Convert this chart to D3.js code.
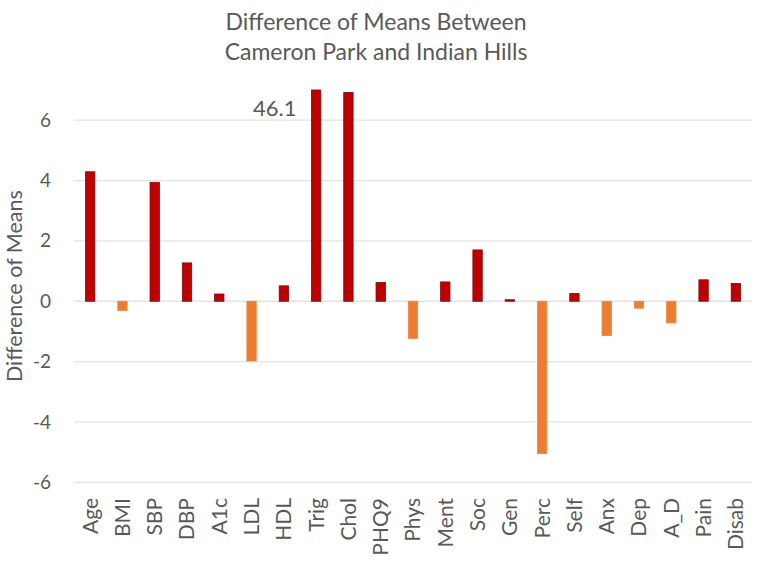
<!DOCTYPE html>
<html>
<head>
<meta charset="utf-8">
<script src="https://cdn.jsdelivr.net/npm/d3@7"></script>
<style>
  body { margin: 0; background: #fff; }
  text { font-family: Lato, "Open Sans", sans-serif; fill: #595959; }
</style>
</head>
<body>
<script>
// chart values
const categories = ["Age", "BMI", "SBP", "DBP", "A1c", "LDL", "HDL", "Trig", "Chol", "PHQ9",
    "Phys", "Ment", "Soc", "Gen", "Perc", "Self", "Anx", "Dep", "A_D", "Pain", "Disab"];
const diffs = [4.29, -0.31, 3.94, 1.27, 0.24, -1.98, 0.51, 46.1, 6.92, 0.62,
    -1.23, 0.64, 1.70, 0.05, -5.05, 0.26, -1.14, -0.23, -0.72, 0.71, 0.59];
const yTicks = [-6, -4, -2, 0, 2, 4, 6];
const titleLines = ["Difference of Means Between", "Cameron Park and Indian Hills"];
const offScaleLabel = "46.1";

const width = 765, height = 563;
const margin = {left: 74, right: 13, top: 89, bottom: 81};

const svg = d3.select("body").append("svg")
    .attr("width", width)
    .attr("height", height);

const x = d3.scaleBand()
    .domain(categories)
    .range([margin.left, width - margin.right])
    .paddingInner(0.71)
    .paddingOuter(0.355);

const y = d3.scaleLinear()
    .domain([-6, 7])
    .range([482.3, 90]);

// gridlines
svg.append("g")
    .selectAll("line")
    .data(yTicks)
    .join("line")
    .attr("x1", margin.left)
    .attr("x2", width - margin.right)
    .attr("y1", d => y(d))
    .attr("y2", d => y(d))
    .attr("stroke", "#e3e3e3")
    .attr("stroke-width", 1.3);

// y axis labels (plain hyphen for negatives, like the original)
const yAxis = svg.append("g")
    .attr("transform", `translate(${margin.left - 23},0)`)
    .call(d3.axisLeft(y).tickValues(yTicks).tickSize(0).tickPadding(0)
        .tickFormat(d => String(d)));
yAxis.select(".domain").remove();
yAxis.selectAll("text")
    .style("font-size", "19px")
    .attr("fill", "#595959")
    .style("font-family", "Lato, sans-serif");

// bars (clipped at the axis maximum)
const yMax = y.domain()[1];
svg.append("g")
    .selectAll("rect")
    .data(categories.map((c, i) => ({c, v: diffs[i]})))
    .join("rect")
    .attr("x", d => x(d.c))
    .attr("width", x.bandwidth())
    .attr("y", d => y(Math.min(Math.max(d.v, 0), yMax)))
    .attr("height", d => Math.abs(y(Math.min(d.v, yMax)) - y(0)))
    .attr("fill", d => d.v >= 0 ? "#c00000" : "#ed7d31")
    .attr("stroke", d => d.v >= 0 ? "#7a0a0a" : "#e9873f")
    .attr("stroke-width", 0.8);

// value label for the off-scale bar
const big = categories[diffs.indexOf(46.1)];
svg.append("text")
    .attr("x", x(big) - 15)
    .attr("y", 116)
    .attr("text-anchor", "end")
    .style("font-size", "22px")
    .text(offScaleLabel);

// category labels
const xAxis = svg.append("g")
    .attr("transform", `translate(0,${height - margin.bottom + 16})`)
    .call(d3.axisBottom(x).tickSize(0).tickPadding(0));
xAxis.select(".domain").remove();
xAxis.selectAll("text")
    .attr("transform", "rotate(-90)")
    .attr("text-anchor", "end")
    .attr("dy", "0.35em")
    .attr("x", 0)
    .attr("y", 0)
    .attr("fill", "#595959")
    .style("font-size", "21px")
    .style("font-family", "Lato, sans-serif");

// title
svg.append("g")
    .selectAll("text")
    .data(titleLines)
    .join("text")
    .attr("x", 376)
    .attr("y", (d, i) => 30 + i * 30)
    .attr("text-anchor", "middle")
    .style("font-size", "23px")
    .text(d => d);

// y axis title, centred on the plot area
svg.append("text")
    .attr("transform", `translate(22,${(y.range()[0] + y.range()[1]) / 2}) rotate(-90)`)
    .attr("text-anchor", "middle")
    .style("font-size", "21.5px")
    .text("Difference of Means");
</script>
</body>
</html>
